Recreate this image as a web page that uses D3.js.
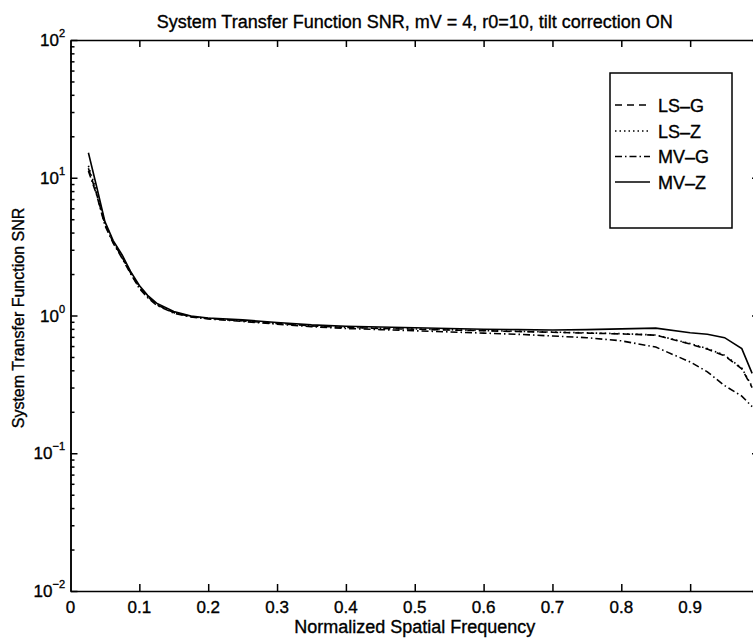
<!DOCTYPE html>
<html><head><meta charset="utf-8">
<script src="https://cdn.jsdelivr.net/npm/d3@7"></script>
<style>
body{margin:0;background:#fff}
svg text{font-family:"Liberation Sans",Arial,Helvetica,sans-serif;fill:#000;stroke:#000;stroke-width:0.35px}
</style>
</head><body>
<svg id="chart" width="753" height="638"></svg>
<script>
// ---------- data ----------
const freq = [0.026,0.038,0.05,0.062,0.075,0.087,0.1,0.112,0.125,0.15,0.175,0.2,0.25,0.3,0.35,0.4,0.45,0.5,0.55,0.6,0.65,0.7,0.75,0.8,0.85,0.9,0.925,0.95,0.975,0.99];
const lsG = [11.7,7.6,4.6,3.4,2.65,2.05,1.6,1.37,1.2,1.05,0.98,0.95,0.915,0.875,0.84,0.82,0.805,0.795,0.785,0.775,0.765,0.755,0.745,0.735,0.72,0.62,0.57,0.51,0.41,0.30];
const lsZ = [12.2,7.9,4.7,3.45,2.68,2.07,1.61,1.38,1.21,1.055,0.982,0.952,0.918,0.878,0.843,0.822,0.808,0.798,0.788,0.778,0.768,0.758,0.748,0.738,0.722,0.625,0.575,0.515,0.415,0.305];
const mvG = [11.2,7.5,4.5,3.35,2.6,2.02,1.57,1.35,1.19,1.04,0.975,0.945,0.905,0.865,0.83,0.805,0.79,0.775,0.76,0.745,0.73,0.71,0.69,0.655,0.59,0.46,0.39,0.31,0.26,0.218];
const mvZ = [15.2,8.6,4.8,3.5,2.75,2.1,1.65,1.4,1.23,1.07,0.99,0.96,0.93,0.89,0.855,0.835,0.825,0.815,0.805,0.795,0.79,0.785,0.79,0.80,0.81,0.75,0.73,0.69,0.575,0.38];
const seriesNames = ["LS\u2013G","LS\u2013Z","MV\u2013G","MV\u2013Z"];
const xTickValues = [0,0.1,0.2,0.3,0.4,0.5,0.6,0.7,0.8,0.9];
const xTickLabels = ["0","0.1","0.2","0.3","0.4","0.5","0.6","0.7","0.8","0.9"];
const yMajor = [0.01,0.1,1,10,100];
const yExponents = ["\u22122","\u22121","0","1","2"];
const titleText = "System Transfer Function SNR, mV = 4, r0=10, tilt correction ON";
const xLabelText = "Normalized Spatial Frequency";
const yLabelText = "System Transfer Function SNR";

// ---------- layout ----------
const L = 70.5, R = 759, T = 40, B = 591;
const svg = d3.select("#chart");
const x = d3.scaleLinear().domain([0,1]).range([L,R]);
const y = d3.scaleLog().domain([0.01,100]).range([B,T]);

const yMinor = [];
for (let e=-2;e<2;e++) for (let k=2;k<=9;k++) yMinor.push(k*Math.pow(10,e));

const axisStyle = g => { g.selectAll("path,line").attr("stroke","#000").attr("stroke-width",1.5); g.selectAll("text").remove(); };

svg.append("g").attr("transform",`translate(0,${B})`).call(d3.axisBottom(x).tickValues(xTickValues.slice(1)).tickSizeInner(-7).tickSizeOuter(0)).call(axisStyle);
svg.append("g").attr("transform",`translate(0,${T})`).call(d3.axisTop(x).tickValues(xTickValues.slice(1)).tickSizeInner(-7).tickSizeOuter(0)).call(axisStyle);
svg.append("g").attr("transform",`translate(${L},0)`).call(d3.axisLeft(y).tickValues(yMajor).tickSizeInner(-7).tickSizeOuter(0)).call(axisStyle);
svg.append("g").attr("transform",`translate(${L},0)`).call(d3.axisLeft(y).tickValues(yMinor).tickSizeInner(-4).tickSizeOuter(0)).call(axisStyle);
svg.append("g").attr("transform",`translate(${R},0)`).call(d3.axisRight(y).tickValues(yMajor).tickSizeInner(-7).tickSizeOuter(0)).call(axisStyle);
svg.append("g").attr("transform",`translate(${R},0)`).call(d3.axisRight(y).tickValues(yMinor).tickSizeInner(-4).tickSizeOuter(0)).call(axisStyle);

// tick labels
svg.append("g").selectAll("text").data(xTickValues).join("text")
  .attr("x",d=>x(d)).attr("y",613).attr("text-anchor","middle").attr("font-size",17)
  .text((d,i)=>xTickLabels[i]);
const yl = svg.append("g").selectAll("text").data(yMajor).join("text")
  .attr("x",65).attr("y",d=>y(d)+6).attr("text-anchor","end").attr("font-size",17);
yl.append("tspan").text("10");
yl.append("tspan").attr("font-size",11).attr("dy",-9).text((d,i)=>yExponents[i]);

// titles
svg.append("text").attr("x",(L+R)/2).attr("y",28).attr("text-anchor","middle").attr("font-size",18).text(titleText);
svg.append("text").attr("x",(L+R)/2).attr("y",633).attr("text-anchor","middle").attr("font-size",18).text(xLabelText);
svg.append("text").attr("transform","translate(24,318) rotate(-90)").attr("text-anchor","middle").attr("font-size",16).text(yLabelText);

// lines
const dashes = ["7,5","1.5,3","7,3,1.5,3",null];
const allSeries = [lsG,lsZ,mvG,mvZ];
const line = d3.line().x(d=>x(d[0])).y(d=>y(d[1]));
allSeries.forEach((s,i)=>{
  svg.append("path").datum(freq.map((f,j)=>[f,s[j]]))
    .attr("d",line).attr("fill","none").attr("stroke","#000")
    .attr("stroke-width",1.6).attr("stroke-dasharray",dashes[i]);
});

// legend
const lg = svg.append("g");
lg.append("rect").attr("x",610).attr("y",73).attr("width",122).attr("height",155)
  .attr("fill","#fff").attr("stroke","#000").attr("stroke-width",1.5);
const rowY = [105,131,156.5,182];
seriesNames.forEach((n,i)=>{
  lg.append("line").attr("x1",615).attr("x2",650).attr("y1",rowY[i]).attr("y2",rowY[i])
    .attr("stroke","#000").attr("stroke-width",1.5).attr("stroke-dasharray",dashes[i]);
  lg.append("text").attr("x",658).attr("y",rowY[i]+6.5).attr("font-size",18).text(n);
});
</script>
</body></html>
